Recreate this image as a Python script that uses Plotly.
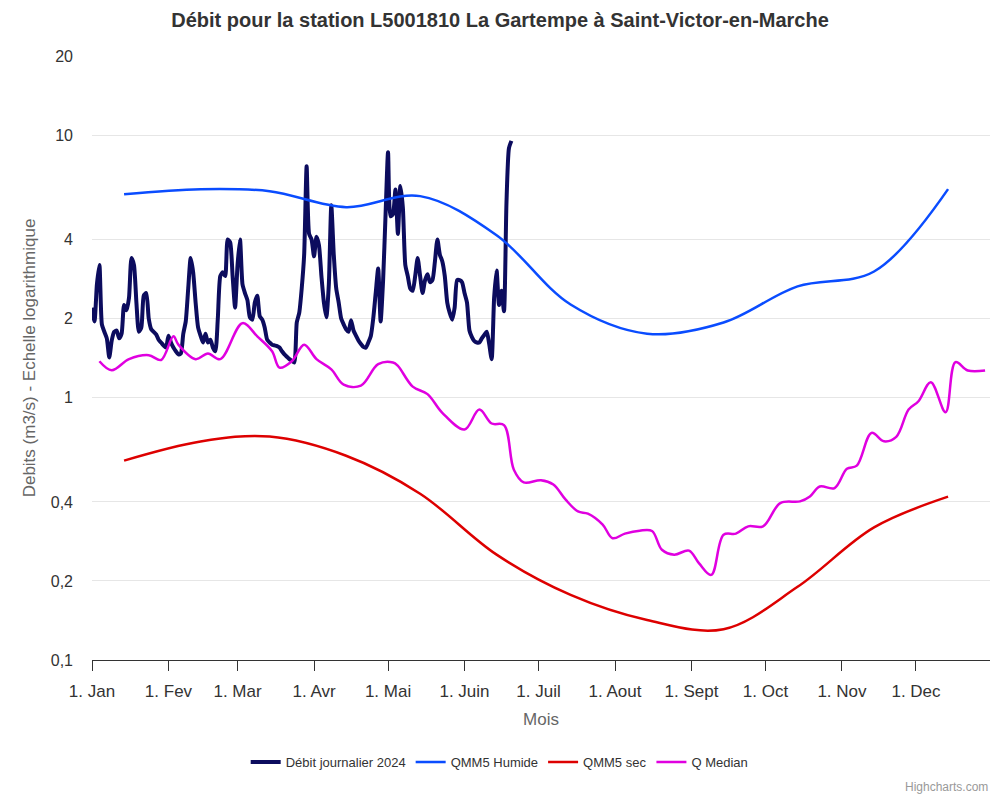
import pandas as pd
import plotly.graph_objects as go

# Values. Like the original, every series is
# drawn on one common (non-leap) calendar year.
debit_start = "2023-01-01"
debit_2024 = [
    2.2, 1.95, 2.7, 3.2, 1.9, 1.78, 1.68, 1.42, 1.65, 1.78,
    1.80, 1.68, 1.75, 2.25, 2.15, 2.4, 3.4, 3.2, 2.3, 1.78,
    1.85, 2.45, 2.5, 2.0, 1.82, 1.78, 1.74, 1.66, 1.62, 1.58,
    1.55, 1.72, 1.62, 1.55, 1.50, 1.46, 1.47, 1.75, 1.95, 2.6,
    3.4, 3.0, 2.3, 1.85, 1.72, 1.62, 1.75, 1.62, 1.66, 1.55,
    1.50, 2.0, 2.9, 3.0, 2.9, 4.0, 3.9, 2.9, 2.2, 3.2,
    4.0, 2.7, 2.5, 2.35, 2.02, 1.98, 2.3, 2.44, 2.04, 1.98,
    1.85, 1.66, 1.62, 1.59, 1.58, 1.57, 1.55, 1.50, 1.46, 1.43,
    1.40, 1.38, 1.36, 1.93, 2.1, 2.6, 3.5, 7.6, 4.2, 4.0,
    3.45, 4.1, 3.8, 2.9, 2.3, 2.02, 2.7, 5.4, 3.5, 2.6,
    2.3, 2.0, 1.90, 1.82, 1.78, 1.97, 1.80, 1.72, 1.65, 1.60,
    1.56, 1.55, 1.62, 1.71, 2.0, 2.5, 3.1, 1.95, 2.8, 5.0,
    8.6, 4.9, 5.0, 6.2, 4.2, 6.4, 5.3, 3.2, 2.9, 2.6,
    2.55, 2.9, 3.4, 2.9, 2.5, 2.8, 2.95, 2.75, 2.8, 3.3,
    4.0, 3.5, 3.3, 2.9, 2.3, 2.1, 1.98, 2.2, 2.8, 2.8,
    2.75, 2.5, 2.3, 1.8, 1.7, 1.64, 1.62, 1.62, 1.68, 1.73,
    1.78, 1.60, 1.40, 2.4, 3.05, 2.25, 2.55, 2.13, 5.5, 8.9,
    9.5,
]

mois_dates = [
    "2023-01-14", "2023-02-14", "2023-03-14", "2023-04-14",
    "2023-05-14", "2023-06-14", "2023-07-14", "2023-08-14",
    "2023-09-14", "2023-10-14", "2023-11-14", "2023-12-14",
]
qmm5_humide = [5.95, 6.22, 6.11, 5.31, 5.85, 4.15, 2.26, 1.75, 1.93, 2.65, 3.02, 6.22]
qmm5_sec = [0.575, 0.68, 0.71, 0.60, 0.43, 0.252, 0.177, 0.142, 0.131, 0.19, 0.32, 0.419]

median_dates = [
    "2023-01-04", "2023-01-09", "2023-01-16", "2023-01-24", "2023-01-29",
    "2023-02-03", "2023-02-05", "2023-02-12", "2023-02-17", "2023-02-22",
    "2023-03-03", "2023-03-09", "2023-03-15", "2023-03-18", "2023-03-23",
    "2023-03-28", "2023-04-02", "2023-04-08", "2023-04-13", "2023-04-20",
    "2023-04-27", "2023-05-03", "2023-05-05", "2023-05-11", "2023-05-17",
    "2023-05-23", "2023-06-01", "2023-06-07", "2023-06-12", "2023-06-17",
    "2023-06-21", "2023-06-25", "2023-07-02", "2023-07-07", "2023-07-12",
    "2023-07-17", "2023-07-21", "2023-07-27", "2023-07-31", "2023-08-05",
    "2023-08-11", "2023-08-16", "2023-08-20", "2023-08-25", "2023-08-31",
    "2023-09-04", "2023-09-09", "2023-09-14", "2023-09-19", "2023-09-24",
    "2023-09-30", "2023-10-07", "2023-10-15", "2023-10-19", "2023-10-23",
    "2023-10-29", "2023-11-03", "2023-11-07", "2023-11-13", "2023-11-18",
    "2023-11-23", "2023-11-28", "2023-12-02", "2023-12-07", "2023-12-13",
    "2023-12-17", "2023-12-22", "2023-12-29",
]
q_median = [
    1.375, 1.27, 1.40, 1.45, 1.39,
    1.71, 1.59, 1.40, 1.47, 1.40,
    1.92, 1.71, 1.50, 1.30, 1.375,
    1.59, 1.40, 1.28, 1.12, 1.11,
    1.34, 1.36, 1.32, 1.10, 1.03,
    0.874, 0.755, 0.90, 0.796, 0.785,
    0.531, 0.475, 0.484, 0.466, 0.408,
    0.368, 0.361, 0.328, 0.291, 0.303,
    0.311, 0.310, 0.263, 0.252, 0.261,
    0.234, 0.211, 0.300, 0.303, 0.323,
    0.323, 0.396, 0.402, 0.420, 0.458,
    0.452, 0.535, 0.550, 0.733, 0.681,
    0.708, 0.900, 0.968, 1.144, 0.879,
    1.364, 1.268, 1.268,
]

tick_dates = pd.date_range("2023-01-01", periods=12, freq="MS")
tick_labels = ["1. Jan", "1. Fev", "1. Mar", "1. Avr", "1. Mai", "1. Juin",
               "1. Juil", "1. Aout", "1. Sept", "1. Oct", "1. Nov", "1. Dec"]
y_ticks = [0.1, 0.2, 0.4, 1, 2, 4, 10, 20]
y_labels = ["0,1", "0,2", "0,4", "1", "2", "4", "10", "20"]

debit_dates = pd.date_range(debit_start, periods=len(debit_2024), freq="D")

fig = go.Figure()
fig.add_trace(go.Scatter(
    x=debit_dates, y=debit_2024, name="Débit journalier 2024", mode="lines",
    line=dict(color="#0c0c5e", width=4, shape="spline", smoothing=0.6),
))
fig.add_trace(go.Scatter(
    x=mois_dates, y=qmm5_humide, name="QMM5 Humide", mode="lines",
    line=dict(color="#0a4cff", width=2.5, shape="spline", smoothing=1),
))
fig.add_trace(go.Scatter(
    x=mois_dates, y=qmm5_sec, name="QMM5 sec", mode="lines",
    line=dict(color="#dd0000", width=2.5, shape="spline", smoothing=1),
))
fig.add_trace(go.Scatter(
    x=median_dates, y=q_median, name="Q Median", mode="lines",
    line=dict(color="#e000e0", width=2.5, shape="spline", smoothing=1),
))

# the page body has an 8px margin, so the figure is a little smaller
font = "Liberation Sans, Arial, Helvetica, sans-serif"
fig.update_layout(
    width=992, height=792,
    paper_bgcolor="white", plot_bgcolor="white",
    margin=dict(l=84, r=10, t=48, b=140, autoexpand=False),
    font=dict(family=font, color="#333333", size=16),
    title=dict(
        text="<b>Débit pour la station L5001810 La Gartempe à Saint-Victor-en-Marche</b>",
        x=0.496, xanchor="center", y=0.985, yanchor="middle",
        font=dict(size=20, color="#333333"),
    ),
    xaxis=dict(
        type="date", range=["2023-01-01", "2023-12-31"],
        tickvals=tick_dates, ticktext=tick_labels, automargin=False,
        showgrid=False, showline=True, linecolor="#333333", linewidth=1,
        ticks="outside", ticklen=10, tickcolor="#333333",
        ticklabelstandoff=6,
        tickfont=dict(size=17, color="#333333"),
        title=dict(text="Mois", font=dict(size=17, color="#666666"), standoff=12),
    ),
    yaxis=dict(
        type="log", range=[-1, 1.30103],
        tickvals=y_ticks, ticktext=y_labels, automargin=False,
        showgrid=True, gridcolor="#e6e6e6", gridwidth=1,
        showline=False, zeroline=False, ticks="",
        ticklabelstandoff=18,
        tickfont=dict(size=16, color="#333333"),
        title=dict(text="Debits (m3/s) - Echelle logarithmique",
                   font=dict(size=17, color="#666666"), standoff=10),
    ),
    legend=dict(
        orientation="h", x=0.454, xanchor="center", y=-0.169, yanchor="middle",
        font=dict(size=13, color="#333333"), itemwidth=30,
    ),
    showlegend=True,
)
fig.add_annotation(
    text="Highcharts.com", xref="paper", yref="paper",
    x=1, xanchor="right", y=-0.21, yanchor="middle", showarrow=False,
    font=dict(size=12, color="#999999"),
)

fig.write_html("out.html")
